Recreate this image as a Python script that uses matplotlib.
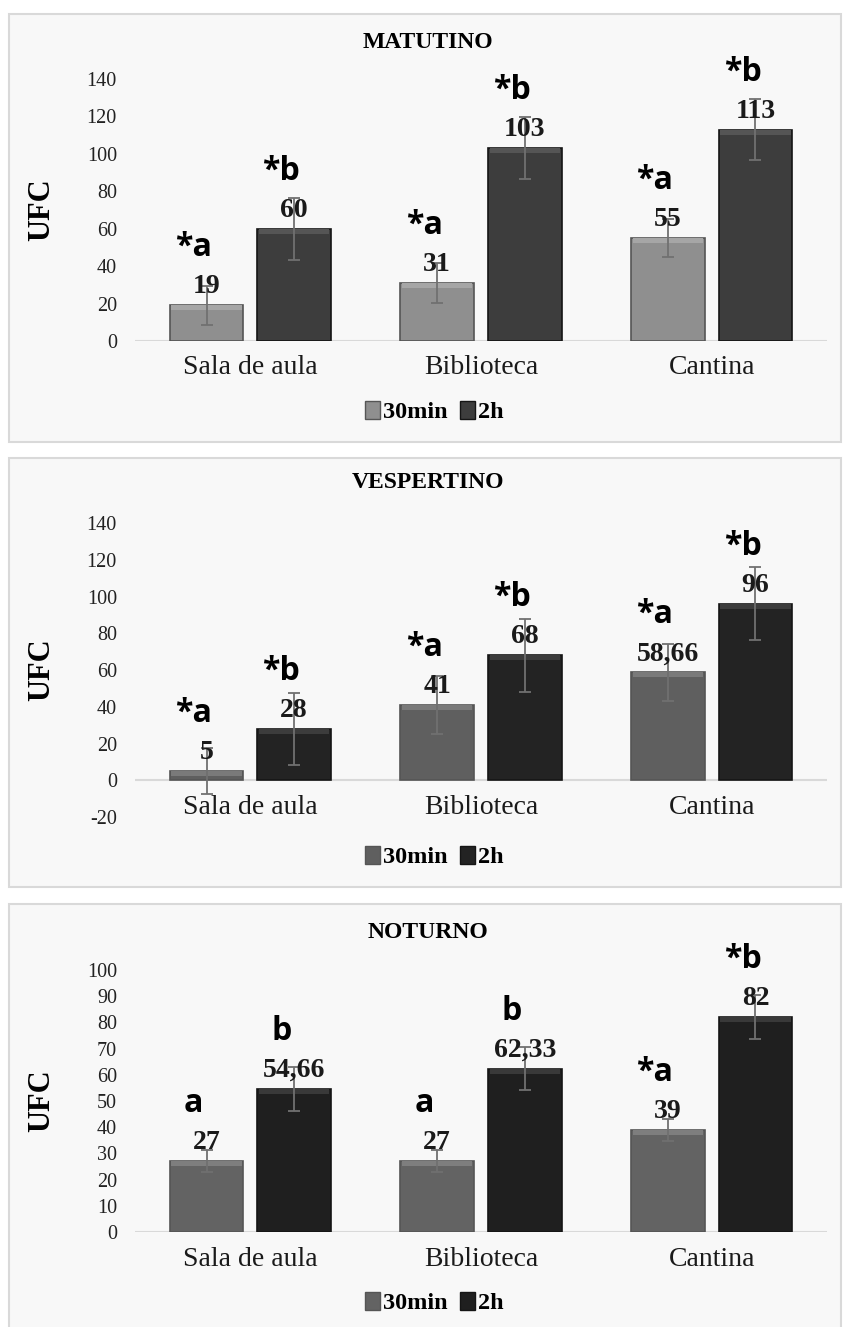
import matplotlib.pyplot as plt
from matplotlib.patches import Rectangle, Patch

# -------- DATA --------
categories = ["Sala de aula", "Biblioteca", "Cantina"]
series = ["30min", "2h"]
panel_titles = ["MATUTINO", "VESPERTINO", "NOTURNO"]

mat_30 = [19, 31, 55]
mat_2h = [60, 103, 113]
mat_err_30 = [10.5, 10.5, 10]
mat_err_2h = [16.5, 16.5, 16.5]
mat_lbl_30 = ["19", "31", "55"]
mat_lbl_2h = ["60", "103", "113"]
mat_let_30 = ["*a", "*a", "*a"]
mat_let_2h = ["*b", "*b", "*b"]

ves_30 = [5, 41, 58.66]
ves_2h = [28, 68, 96]
ves_err_30 = [12.5, 15.7, 15.6]
ves_err_2h = [19.7, 20, 19.8]
ves_lbl_30 = ["5", "41", "58,66"]
ves_lbl_2h = ["28", "68", "96"]
ves_let_30 = ["*a", "*a", "*a"]
ves_let_2h = ["*b", "*b", "*b"]

not_30 = [27, 27, 39]
not_2h = [54.66, 62.33, 82]
not_err_30 = [4.2, 4.2, 4.1]
not_err_2h = [8.3, 8.2, 8.3]
not_lbl_30 = ["27", "27", "39"]
not_lbl_2h = ["54,66", "62,33", "82"]
not_let_30 = ["a", "a", "*a"]
not_let_2h = ["b", "b", "*b"]

ticks_mat = [0, 20, 40, 60, 80, 100, 120, 140]
ticks_ves = [-20, 0, 20, 40, 60, 80, 100, 120, 140]
ticks_not = [0, 10, 20, 30, 40, 50, 60, 70, 80, 90, 100]

# -------- STYLE --------
W, H = 844, 1327
SERIF = "Liberation Serif"
SANS = "Open Sans"

panels = [
    dict(title=panel_titles[0], v30=mat_30, v2h=mat_2h, e30=mat_err_30, e2h=mat_err_2h,
         l30=mat_lbl_30, l2h=mat_lbl_2h, k30=mat_let_30, k2h=mat_let_2h,
         ticks=ticks_mat, ylim=(0, 140), top=79, bot=341, frame=(14, 442),
         title_y=42, cat_y=368, leg_y=412, zero_y=341,
         c30="#8f8f8f", c2h="#3d3d3d", h30="#a6a6a6", h2h="#555555"),
    dict(title=panel_titles[1], v30=ves_30, v2h=ves_2h, e30=ves_err_30, e2h=ves_err_2h,
         l30=ves_lbl_30, l2h=ves_lbl_2h, k30=ves_let_30, k2h=ves_let_2h,
         ticks=ticks_ves, ylim=(-20, 140), top=523, bot=817, frame=(458, 887),
         title_y=483, cat_y=807, leg_y=857, zero_y=780,
         c30="#5f5f5f", c2h="#232323", h30="#7a7a7a", h2h="#3c3c3c"),
    dict(title=panel_titles[2], v30=not_30, v2h=not_2h, e30=not_err_30, e2h=not_err_2h,
         l30=not_lbl_30, l2h=not_lbl_2h, k30=not_let_30, k2h=not_let_2h,
         ticks=ticks_not, ylim=(0, 100), top=970, bot=1232, frame=(904, 1340),
         title_y=932, cat_y=1259, leg_y=1303, zero_y=1232,
         c30="#636363", c2h="#1f1f1f", h30="#7e7e7e", h2h="#393939"),
]

fig = plt.figure(figsize=(W / 100, H / 100), dpi=100)
fig.patch.set_facecolor("white")

ax_left, ax_right = 135, 827
off = 0.19
bw = 0.32

for p in panels:
    # panel frame
    fy0, fy1 = p["frame"]
    fig.patches.append(Rectangle((9 / W, 1 - fy1 / H), (841 - 9) / W, (fy1 - fy0) / H,
                                 transform=fig.transFigure, facecolor="#f8f8f8",
                                 edgecolor="#d9d9d9", linewidth=1.5, zorder=-5))

    ax = fig.add_axes([ax_left / W, 1 - p["bot"] / H, (ax_right - ax_left) / W,
                       (p["bot"] - p["top"]) / H])
    ax.set_zorder(2)
    ax.set_facecolor("none")
    x = list(range(len(categories)))
    x30 = [i - off for i in x]
    x2h = [i + off for i in x]

    # bevel strip height: ~5 px in data units
    strip = 5 * (p["ylim"][1] - p["ylim"][0]) / (p["bot"] - p["top"])

    ax.bar(x30, p["v30"], width=bw, color=p["c30"], edgecolor="#555555", linewidth=1.2, zorder=2)
    ax.bar(x2h, p["v2h"], width=bw, color=p["c2h"], edgecolor="#151515", linewidth=1.2, zorder=2)
    ax.bar(x30, [strip] * 3, bottom=[v - strip for v in p["v30"]], width=bw * 0.95,
           color=p["h30"], linewidth=0, zorder=2.1)
    ax.bar(x2h, [strip] * 3, bottom=[v - strip for v in p["v2h"]], width=bw * 0.95,
           color=p["h2h"], linewidth=0, zorder=2.1)
    ax.errorbar(x30, p["v30"], yerr=p["e30"], fmt="none", ecolor="#707070",
                elinewidth=1.3, capsize=4, capthick=1.3, zorder=3)
    ax.errorbar(x2h, p["v2h"], yerr=p["e2h"], fmt="none", ecolor="#707070",
                elinewidth=1.3, capsize=4, capthick=1.3, zorder=3)

    for xs, vals, lbls, lets in [(x30, p["v30"], p["l30"], p["k30"]),
                                 (x2h, p["v2h"], p["l2h"], p["k2h"])]:
        for xi, v, lb, lt in zip(xs, vals, lbls, lets):
            ax.annotate(lb, (xi, v), xytext=(0, 12), textcoords="offset pixels",
                        ha="center", va="baseline", fontsize=20, fontweight="bold",
                        family=SERIF, color="#1a1a1a", zorder=4)
            ax.annotate(lt, (xi, v), xytext=(-13, 49), textcoords="offset pixels",
                        ha="center", va="baseline", fontsize=23, fontweight="bold",
                        family=SANS, color="black", zorder=4)

    ax.set_xlim(-0.5, 2.5)
    ax.set_ylim(*p["ylim"])
    ax.set_yticks(p["ticks"])
    ax.set_yticklabels([str(t) for t in p["ticks"]], family=SERIF, fontsize=14.5, color="#222222")
    ax.tick_params(axis="y", length=0, pad=13)
    ax.set_xticks([])
    for s in ax.spines.values():
        s.set_visible(False)
    ax.axhline(0, color="#d9d9d9", linewidth=1.5, zorder=1)

    # category labels under the zero line
    for i, c in enumerate(categories):
        ax.annotate(c, (i, 0), xytext=(0, -(p["cat_y"] - p["zero_y"])),
                    textcoords="offset pixels", ha="center", va="center",
                    fontsize=20, family=SERIF, color="#1a1a1a", annotation_clip=False)

    ax.set_ylabel("UFC", family=SERIF, fontsize=22, fontweight="bold")
    ax.yaxis.set_label_coords((56 - ax_left) / (ax_right - ax_left), 0.5)

    fig.text(428 / W, 1 - p["title_y"] / H, p["title"], ha="center", va="center",
             family=SERIF, fontsize=17, fontweight="bold")

    handles = [Patch(facecolor=p["c30"], edgecolor="#555555"),
               Patch(facecolor=p["c2h"], edgecolor="#151515")]
    fig.legend(handles, series, loc="center", bbox_to_anchor=(434 / W, 1 - p["leg_y"] / H),
               ncol=2, frameon=False, handlelength=0.65, handleheight=0.75,
               handletextpad=0.1, columnspacing=0.5,
               prop=dict(family=SERIF, size=17.5, weight="bold"))

fig.savefig("out.png", dpi=100)
